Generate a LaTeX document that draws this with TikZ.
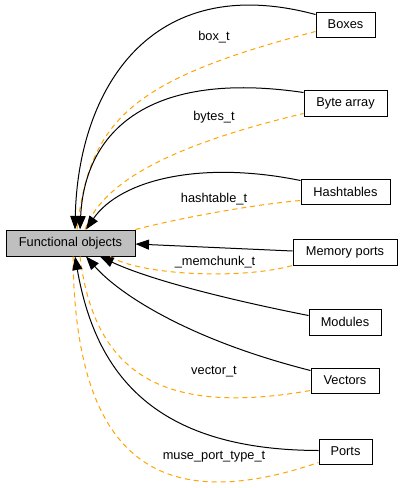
\documentclass[tikz,border=0pt]{standalone}
\usepackage{fontspec}
\setmainfont{Liberation Sans}
\usetikzlibrary{arrows.meta,calc}
\definecolor{edgeorange}{HTML}{FFA500}
\definecolor{fogray}{HTML}{BFBFBF}
\tikzset{
  grp/.style={draw=black, line width=1pt, fill=white, inner sep=0pt, minimum height=25pt,
    font=\fontsize{12.8}{14}\selectfont, text=black},
  mainbox/.style={grp, fill=fogray, minimum height=26pt},
  dep/.style={draw=black, line width=1pt, {Triangle[length=13.5pt,width=10pt]}-},
  mem/.style={draw=edgeorange, line width=1pt, dash pattern=on 5pt off 4pt},
  lbl/.style={font=\fontsize{12.8}{14}\selectfont, text=black, inner sep=0pt}
}
\begin{document}
\begin{tikzpicture}[x=1pt,y=-1pt]
\useasboundingbox[fill=white] (0,0) rectangle (403,488);
\node[mainbox, minimum width=129pt] (fo) at (70.5,243) {Functional objects};
\node[grp, minimum width=59pt] (boxes) at (345.5,24.5) {Boxes};
\node[grp, minimum width=83pt, minimum height=26pt] (bytearr) at (345.5,103) {Byte array};
\node[grp, minimum width=89pt] (hasht) at (345.5,191.5) {Hashtables};
\node[grp, minimum width=104pt, minimum height=26pt] (memp) at (345,252) {Memory ports};
\node[grp, minimum width=72pt, minimum height=26pt] (modules) at (345,322) {Modules};
\node[grp, minimum width=68pt] (vectors) at (345,380.5) {Vectors};
\node[grp, minimum width=53pt] (ports) at (345.5,451.5) {Ports};

% orange dashed member edges
\draw[mem] ($(fo.north)+(6.5,0)$) .. controls (90,120) and (130,80) .. ($(boxes.south west)+(0,-6)$);
\draw[mem] ($(fo.north)+(14.5,0)$) .. controls (100,190) and (150,150) .. ($(bytearr.south west)+(0,-3)$);
\draw[mem] (fo.north east) .. controls (180,218) and (250,205) .. ($(hasht.south west)+(0,-4)$);
\draw[mem] ($(fo.south)+(39.5,0)$) .. controls (140,275) and (240,280) .. (memp.south west);
\draw[mem] ($(fo.south)+(9.5,0)$) .. controls (95,380) and (170,415) .. ($(vectors.south west)+(0,-3)$);
\draw[mem] ($(fo.south)+(2.5,0)$) .. controls (75,450) and (150,520) .. ($(ports.south west)+(0,-2)$);

% black group edges
\draw[dep] ($(fo.north)+(4.5,0)$) .. controls (78,90) and (150,-30) .. ($(boxes.north west)+(0,3)$);
\draw[dep] ($(fo.north)+(9.5,0)$) .. controls (85,130) and (150,70) .. ($(bytearr.north west)+(0,3)$);
\draw[dep] ($(fo.north)+(15.5,0)$) .. controls (120,180) and (200,160) .. ($(hasht.north west)+(0,2)$);
\draw[dep] ($(fo.east)+(0,1)$) -- ($(memp.west)+(0,-1)$);
\draw[dep] ($(fo.south)+(29.5,0)$) .. controls (150,280) and (230,300) .. ($(modules.north west)+(0,7)$);
\draw[dep] ($(fo.south)+(15.5,0)$) .. controls (120,295) and (190,340) .. ($(vectors.north west)+(0,3)$);
\draw[dep] ($(fo.south)+(4.5,0)$) .. controls (95,370) and (150,450) .. ($(ports.north west)+(0,12)$);

% labels
\node[lbl] (l1) at (214,37) {box\_t};
\node[lbl] (l2) at (214,117) {bytes\_t};
\node[lbl] (l3) at (214,199) {hashtable\_t};
\node[lbl] (l4) at (215,262) {\_memchunk\_t};
\node[lbl] (l5) at (214,372) {vector\_t};
\node[lbl] (l6) at (214,457) {muse\_port\_type\_t};
\end{tikzpicture}
\end{document}
